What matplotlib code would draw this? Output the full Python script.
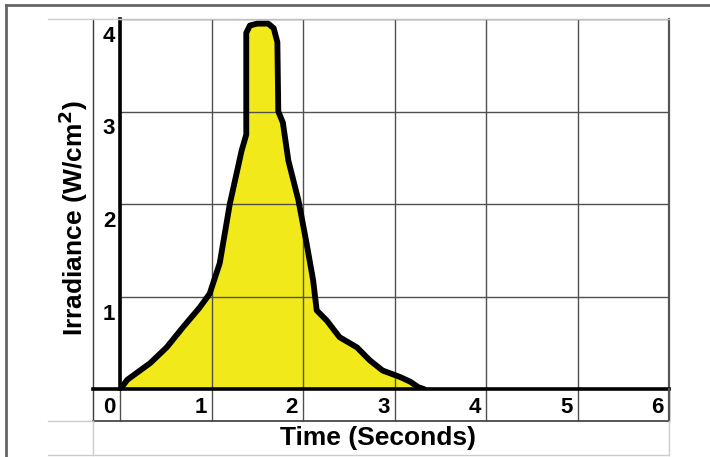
import matplotlib
matplotlib.use("Agg")
import matplotlib.pyplot as plt
import matplotlib.transforms as mtransforms
from matplotlib.lines import Line2D

plt.rcParams['font.family'] = ['Liberation Sans', 'DejaVu Sans']
plt.rcParams['font.weight'] = 'bold'

# curve (seconds, W/cm^2)
time_s = [0.02, 0.08, 0.33, 0.51, 0.69, 0.87, 0.98, 1.09, 1.20, 1.33, 1.38, 1.38,
          1.42, 1.50, 1.62, 1.68, 1.72, 1.73, 1.78, 1.84, 1.95, 2.04, 2.11, 2.15,
          2.26, 2.40, 2.59, 2.73, 2.87, 3.06, 3.17, 3.26, 3.32]
irradiance = [0.02, 0.10, 0.28, 0.45, 0.67, 0.88, 1.03, 1.36, 2.00, 2.58, 2.75, 3.85,
              3.93, 3.95, 3.95, 3.90, 3.75, 3.00, 2.88, 2.47, 2.04, 1.57, 1.18, 0.85,
              0.74, 0.56, 0.45, 0.31, 0.20, 0.13, 0.08, 0.02, 0.0]

x_ticks = [0, 1, 2, 3, 4, 5, 6]
y_ticks = [1, 2, 3, 4]

W, H = 710, 457
fig = plt.figure(figsize=(W / 100, H / 100), dpi=100)
fig.patch.set_facecolor('white')

def fx(px):
    return px / W

def fy(py):
    return 1 - py / H

# plot region in pixels: x 120..669, y 19..389
ax = fig.add_axes([fx(120), fy(389), fx(669) - fx(120), fy(19) - fy(389)])
ax.set_xlim(0, 6)
ax.set_ylim(0, 4)

ax.fill_between(time_s, irradiance, 0, color='#f2e91a', lw=0, zorder=1)
ax.set_xticks(x_ticks)
ax.set_yticks(y_ticks)
ax.grid(True, color='#505050', lw=1.0, zorder=2)
ax.set_axisbelow(False)
ax.plot(time_s, irradiance, color='black', lw=4.2, solid_capstyle='round',
        solid_joinstyle='round', zorder=3)

ax.tick_params(length=0, labelsize=16)
ax.tick_params(axis='x', pad=6)
for lab in ax.get_xticklabels():
    lab.set_ha('right')
    lab.set_transform(lab.get_transform() +
                      mtransforms.ScaledTranslation(-5 / 100, 0, fig.dpi_scale_trans))
for lab in ax.get_yticklabels():
    lab.set_va('top')
    lab.set_transform(lab.get_transform() +
                      mtransforms.ScaledTranslation(0, -7 / 100, fig.dpi_scale_trans))

for side in ['top', 'right', 'bottom', 'left']:
    ax.spines[side].set_zorder(4)
ax.spines['left'].set_linewidth(2.6)
ax.spines['bottom'].set_linewidth(2.6)
ax.spines['left'].set_color('black')
ax.spines['bottom'].set_color('black')
ax.spines['right'].set_color('#555555')
ax.spines['right'].set_linewidth(1.6)
ax.spines['top'].set_color('#c0c0c0')
ax.spines['top'].set_linewidth(1.0)

ax.set_xlabel('Time (Seconds)', fontsize=19, fontweight='bold', va='center')
ax.xaxis.set_label_coords((378 - 120) / 549, (389 - 438) / 370)
ax.set_ylabel('Irradiance (W/cm$\\mathbf{^2}$)', fontsize=19, fontweight='bold', va='center')
ax.yaxis.set_label_coords((73 - 120) / 549, (389 - 218) / 370)

# grid lines continue into the tick label row
row_h = 32 / 92.5
ax.vlines(x_ticks, -row_h, 0, colors='#505050', lw=1.0, clip_on=False, zorder=2)

def cell_line(x0, y0, x1, y1, color, lw):
    fig.add_artist(Line2D([fx(x0), fx(x1)], [fy(y0), fy(y1)], color=color, lw=lw,
                          transform=fig.transFigure))

dark = '#3a3a3a'
light = '#cccccc'
cell_line(93, 19, 93, 421, dark, 1.0)
cell_line(93, 421, 669, 421, dark, 1.2)
cell_line(93, 389, 120, 389, 'black', 2.6)
cell_line(669, 389, 669, 421, '#555555', 1.6)
cell_line(48, 19, 120, 19, light, 1.0)
cell_line(48, 421, 93, 421, light, 1.0)
cell_line(48, 455, 669, 455, light, 1.0)
cell_line(93, 421, 93, 455, light, 1.0)
cell_line(669, 421, 669, 455, light, 1.0)

# outer frame
cell_line(6, 5, 710, 5, '#666666', 2.0)
cell_line(6, 5, 6, 457, '#666666', 2.0)

fig.savefig('out.png', dpi=100)
